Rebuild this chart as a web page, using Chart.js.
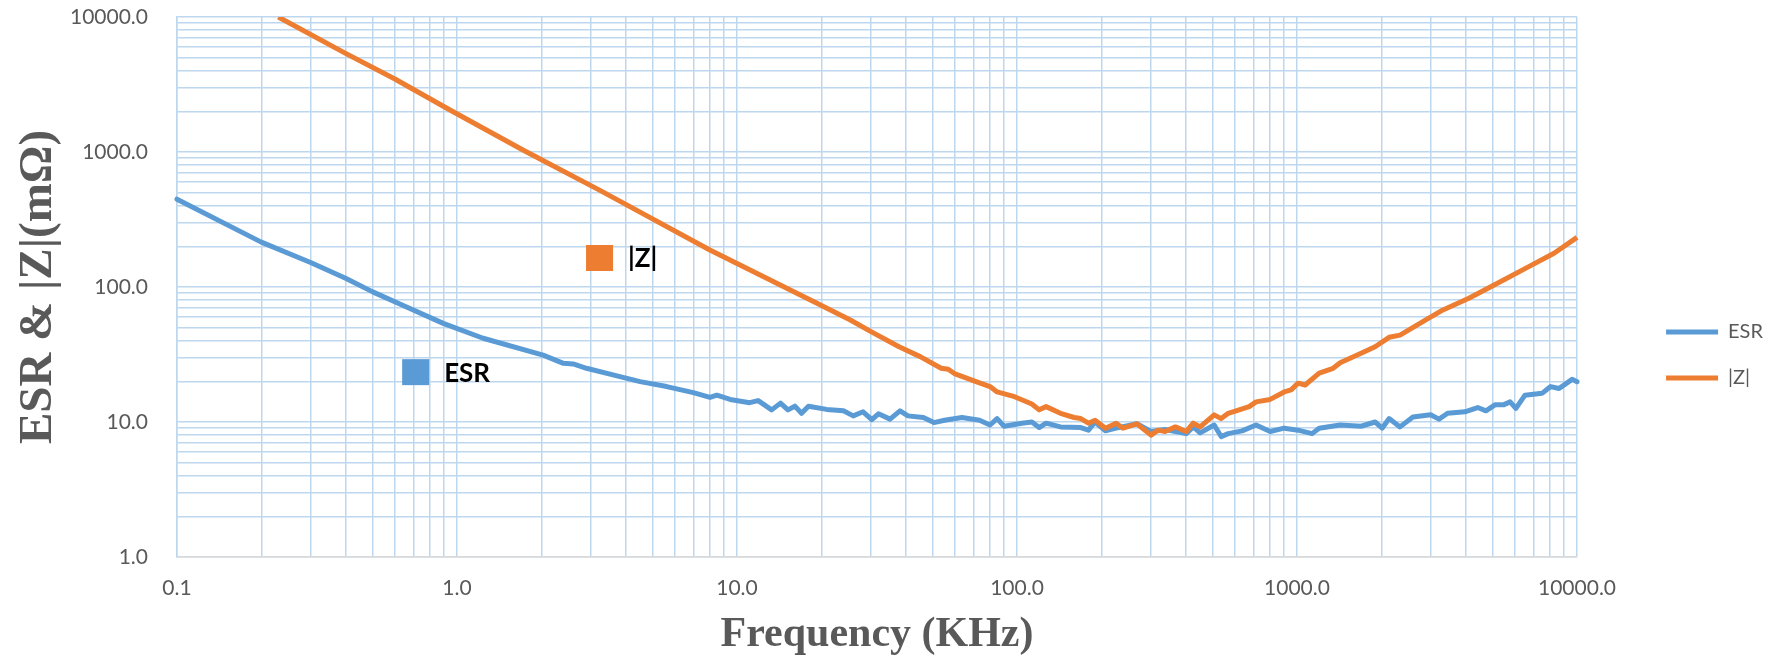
<!DOCTYPE html>
<html>
<head>
<meta charset="utf-8">
<title>ESR & |Z|</title>
<script src="https://cdn.jsdelivr.net/npm/chart.js@4.4.1/dist/chart.umd.min.js"></script>
<style>
  body { margin: 0; background: #ffffff; }
  #chart { display: block; }
</style>
</head>
<body>
<canvas id="chart" width="1773" height="661"></canvas>
<script>
// values (frequency in KHz, impedance in mOhm)
var esrFreq = [
  0.1, 0.2, 0.3, 0.4, 0.5, 0.625, 0.893, 1.24, 2.03, 2.40,
  2.60, 2.90, 3.82, 4.51, 5.61, 6.98, 8.01, 8.47, 9.45, 11.1,
  11.9, 13.3, 14.3, 15.2, 16.1, 17.0, 18.0, 20.9, 24.0, 26.0,
  28.2, 30.3, 32.0, 35.2, 38.2, 40.8, 46.3, 50.5, 55.1, 63.6,
  73.5, 80.1, 84.9, 89.9, 104, 113, 120, 127, 143, 169,
  180, 190, 207, 226, 268, 301, 338, 402, 426, 451,
  506, 536, 568, 637, 714, 802, 900, 1009, 1132, 1200,
  1426, 1694, 1901, 2014, 2133, 2333, 2594, 3000, 3215, 3451,
  3975, 4420, 4730, 5090, 5460, 5770, 6050, 6520, 7500, 8050,
  8630, 9600, 10000
];
var esrValues = [
  447, 215, 152, 116, 92, 74.8, 53.8, 41.7, 31.3, 27.2,
  26.9, 25.0, 21.7, 19.9, 18.3, 16.5, 15.2, 15.8, 14.7, 13.9,
  14.4, 12.3, 13.8, 12.3, 13.1, 11.6, 13.1, 12.4, 12.1, 11.1,
  11.9, 10.4, 11.5, 10.5, 12.1, 11.1, 10.8, 9.9, 10.3, 10.8,
  10.3, 9.5, 10.6, 9.3, 9.8, 10.0, 9.1, 9.8, 9.2, 9.1,
  8.7, 10.0, 8.6, 9.0, 9.7, 8.5, 8.8, 8.2, 9.2, 8.3,
  9.5, 7.8, 8.2, 8.6, 9.5, 8.5, 9.0, 8.7, 8.2, 9.0,
  9.5, 9.3, 10.0, 9.0, 10.6, 9.2, 10.9, 11.3, 10.5, 11.6,
  11.9, 12.8, 12.1, 13.4, 13.4, 14.1, 12.6, 15.8, 16.3, 18.3,
  17.7, 20.7, 19.9
];
var zFreq = [
  0.23, 0.4, 0.6, 0.944, 1.72, 3.24, 8.0, 19.3, 25.4, 30.1,
  37.9, 45.1, 53.6, 56.8, 60.1, 71.4, 80.1, 84.9, 98, 113,
  120, 127, 143, 160, 169, 180, 190, 207, 226, 239,
  268, 301, 319, 338, 368, 402, 426, 451, 506, 536,
  568, 675, 714, 802, 900, 953, 1009, 1069, 1200, 1346,
  1426, 1694, 1901, 2133, 2333, 2884, 3321, 4110, 5060, 6700,
  8280, 10000
];
var zValues = [
  10000, 5380, 3475, 2047, 1035, 520, 188, 75.7, 57.0, 46.7,
  36.1, 30.5, 25.0, 24.6, 22.7, 19.9, 18.3, 16.7, 15.4, 13.6,
  12.3, 13.0, 11.6, 10.8, 10.6, 9.8, 10.3, 9.0, 9.8, 9.0,
  9.7, 8.0, 8.7, 8.5, 9.2, 8.5, 9.8, 9.2, 11.3, 10.6,
  11.6, 13.0, 14.1, 14.7, 16.7, 17.3, 19.4, 18.8, 23.0, 25.0,
  27.5, 32.3, 36.1, 42.4, 44.0, 57.0, 67.6, 82.5, 103.5, 141,
  178, 233
];
var seriesNames = ['ESR', '|Z|'];
var xDecades = [0.1, 1, 10, 100, 1000, 10000];
var xTickLabels = ['0.1', '1.0', '10.0', '100.0', '1000.0', '10000.0'];
var yDecades = [1, 10, 100, 1000, 10000];
var yTickLabels = ['1.0', '10.0', '100.0', '1000.0', '10000.0'];

var blue = '#5B9BD5';
var orange = '#ED7D31';
var gridColor = '#BDD7EE';
var textGray = '#595959';

function toPoints(xs, ys) {
  return xs.map(function(x, i) { return {x: x, y: ys[i]}; });
}

// minor grid: 1..9 in every decade
function gridTicks(decades) {
  var out = [];
  for (var d = 0; d < decades.length - 1; d++) {
    for (var k = 1; k < 10; k++) out.push({value: decades[d] * k});
  }
  out.push({value: decades[decades.length - 1]});
  return out;
}

function decadeLabel(value, decades, labels) {
  for (var i = 0; i < decades.length; i++) {
    if (Math.abs(value - decades[i]) < decades[i] * 1e-6) return labels[i];
  }
  return '';
}

// the two boxed labels drawn inside the plot
var noteBoxes = {
  id: 'noteBoxes',
  afterDatasetsDraw: function(chart) {
    var ctx = chart.ctx;
    var xs = chart.scales.x, ys = chart.scales.y;
    var notes = [
      {text: seriesNames[1], color: orange, f: 2.89, v: 164},
      {text: seriesNames[0], color: blue, f: 0.637, v: 23.4}
    ];
    ctx.save();
    ctx.font = 'bold 26px Lato';
    ctx.textBaseline = 'middle';
    ctx.textAlign = 'left';
    notes.forEach(function(n) {
      var x = xs.getPixelForValue(n.f);
      var y = ys.getPixelForValue(n.v);
      ctx.fillStyle = n.color;
      ctx.fillRect(x, y - 13, 27, 26);
      ctx.fillStyle = '#000000';
      ctx.fillText(n.text, x + 42, y + 1);
    });
    ctx.restore();
  }
};

// keep the legend against the right edge, away from the plot
var legendRight = {
  id: 'legendRight',
  afterLayout: function(chart) {
    var lg = chart.legend;
    var shift = chart.width - lg.right;
    lg.left += shift;
    lg.right += shift;
  }
};

var ctx = document.getElementById('chart').getContext('2d');

var chart = new Chart(ctx, {
  type: 'line',
  data: {
    datasets: [{
      label: seriesNames[0],
      data: toPoints(esrFreq, esrValues),
      borderColor: blue,
      backgroundColor: blue,
      borderWidth: 5,
      borderCapStyle: 'round',
      borderJoinStyle: 'round',
      pointRadius: 0,
      tension: 0,
      order: 1,
      clip: {left: 3, right: 3, top: 0, bottom: 3}
    }, {
      label: seriesNames[1],
      data: toPoints(zFreq, zValues),
      borderColor: orange,
      backgroundColor: orange,
      borderWidth: 5,
      borderCapStyle: 'butt',
      borderJoinStyle: 'round',
      pointRadius: 0,
      tension: 0,
      order: 0,
      clip: {left: 3, right: 3, top: 0, bottom: 3}
    }]
  },
  options: {
    responsive: false,
    animation: false,
    devicePixelRatio: 1,
    layout: {padding: {top: 17, right: 0, bottom: 0, left: 0}},
    plugins: {
      tooltip: {enabled: false},
      legend: {
        position: 'right',
        title: {display: true, text: '', padding: {top: 20, bottom: 0}, font: {size: 10}},
        labels: {
          usePointStyle: true,
          pointStyle: 'line',
          pointStyleWidth: 52,
          padding: 26,
          color: textGray,
          font: {family: 'Lato', size: 20},
          sort: function(a, b) { return a.datasetIndex - b.datasetIndex; }
        }
      }
    },
    scales: {
      x: {
        type: 'logarithmic',
        min: 0.1,
        max: 10000,
        afterBuildTicks: function(scale) { scale.ticks = gridTicks(xDecades); },
        afterFit: function(scale) {
          scale.height = 104;
          scale.paddingRight = 196;
        },
        grid: {color: gridColor, lineWidth: 1.5, drawTicks: false},
        border: {color: '#D9D9D9', width: 1.5},
        ticks: {
          autoSkip: false,
          maxRotation: 0,
          padding: 19,
          color: textGray,
          font: {family: 'Lato', size: 21},
          callback: function(value) { return decadeLabel(value, xDecades, xTickLabels); }
        },
        title: {
          display: true,
          text: 'Frequency (KHz)',
          color: textGray,
          padding: {top: 0, bottom: 3},
          font: {family: 'Liberation Serif', size: 42, weight: 'bold', lineHeight: 1.1}
        }
      },
      y: {
        type: 'logarithmic',
        min: 1,
        max: 10000,
        afterBuildTicks: function(scale) { scale.ticks = gridTicks(yDecades); },
        afterFit: function(scale) {
          scale.width = 177;
          scale.paddingTop = 12;
          scale.paddingBottom = 12;
        },
        grid: {color: gridColor, lineWidth: 1.5, drawTicks: false},
        border: {color: gridColor, width: 1.5},
        ticks: {
          autoSkip: false,
          padding: 29,
          color: textGray,
          font: {family: 'Lato', size: 21},
          callback: function(value) { return decadeLabel(value, yDecades, yTickLabels); }
        },
        title: {
          display: true,
          text: 'ESR & |Z|(mΩ)',
          color: textGray,
          padding: {top: 11, bottom: 0},
          font: {family: 'Liberation Serif', size: 47, weight: 'bold'}
        }
      }
    }
  },
  plugins: [noteBoxes, legendRight]
});
</script>
</body>
</html>
